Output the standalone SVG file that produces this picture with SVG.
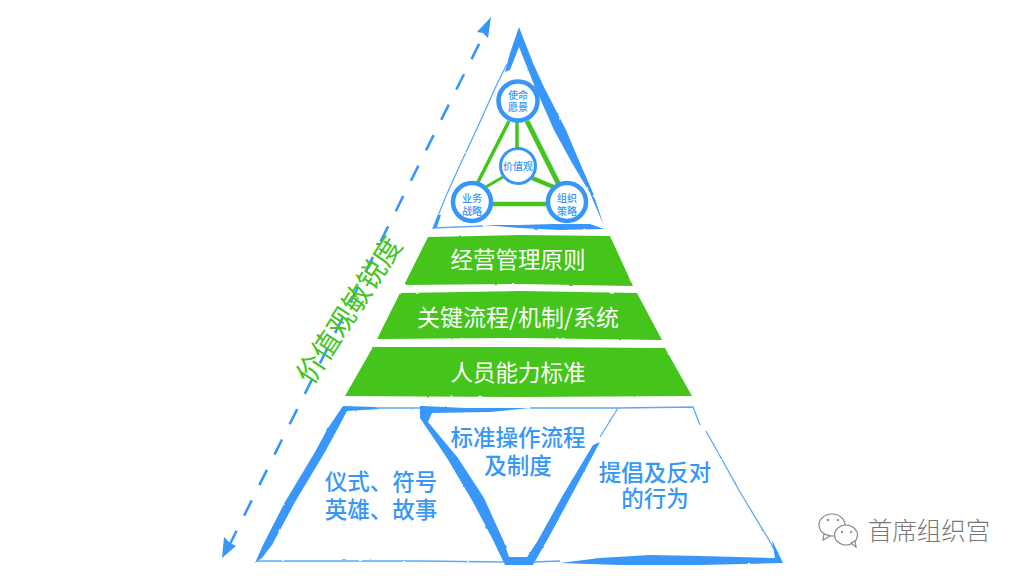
<svg xmlns="http://www.w3.org/2000/svg" width="1024" height="576" viewBox="0 0 1024 576">
<style>
text{font-family:"Noto Sans CJK SC","Liberation Sans",sans-serif;text-anchor:middle;font-weight:500}
.b{fill:#3797f8}
.g{fill:#44c51e}
.t{fill:none;stroke:#5aaafa;stroke-width:1.3}
.lw{font-size:22.5px;fill:#fff;font-weight:400}
.lb{font-size:22.5px;fill:#3797f8}
.ls{font-size:10px;fill:#3797f8}
.c{fill:#fff;stroke:#3797f8;stroke-width:4.5}
.e{stroke:#44c51e;fill:none}
.d{stroke:#3797f8;stroke-width:2.6;fill:none;stroke-dasharray:17 17}
.w{fill:#fff;stroke:#8a8a8a;stroke-width:1.2}
</style>
<defs>
<filter id="rough" x="-5%" y="-5%" width="110%" height="110%">
<feTurbulence type="fractalNoise" baseFrequency="0.12" numOctaves="2" seed="4"/>
<feDisplacementMap in="SourceGraphic" scale="1.8" xChannelSelector="R" yChannelSelector="G"/>
</filter>
</defs>
<rect width="1024" height="576" fill="#fff"/>

<g id="connectors">
<path class="d" d="M229 546L484 34"/>
<polygon class="b" points="491,17 488,38 483,33 477,32"/>
<polygon class="b" points="222,558 224,537 230,543 236,546"/>
</g>

<g id="top-triangle" filter="url(#rough)">
<polygon class="b" points="519,27 533,63 544,87 566,130 580,163 593,193 604,226 590,193 572,163 554,130 535,87 519,47 510,70 505,72 510,53"/>
<path class="t" d="M507 64L497 84L480 122L460 165L446 196L433 228L483 226"/>
<polygon class="b" points="433,229 438,215 441,215 437,227"/>
<polygon class="b" points="483,225 520,225 553,224 590,224 604,229 560,230 520,228"/>
</g>

<g id="value-links">
<path class="e" stroke-width="3.5" d="M509 121L477 184"/>
<path class="e" stroke-width="3.5" d="M517 122L517 149"/>
<path class="e" stroke-width="5" d="M527 121L559 185"/>
<path class="e" stroke-width="3" d="M484 188L503 177"/>
<path class="e" stroke-width="4.5" d="M532 178L556 188"/>
<path class="e" stroke-width="4.5" d="M490 204L548 204"/>
</g>

<g id="node-mission"><circle class="c" cx="518" cy="101" r="19.5"/><text class="ls" x="518" y="99">使命</text><text class="ls" x="518" y="111">愿景</text></g>
<g id="node-values"><circle class="c" cx="518" cy="166" r="17.5" style="stroke-width:3"/><text class="ls" x="518" y="170">价值观</text></g>
<g id="node-business"><circle class="c" cx="472" cy="202" r="19"/><text class="ls" x="472" y="202">业务</text><text class="ls" x="472" y="215">战略</text></g>
<g id="node-org"><circle class="c" cx="567" cy="202" r="19"/><text class="ls" x="567" y="202">组织</text><text class="ls" x="567" y="215">策略</text></g>

<g id="band-principles"><polygon class="g" filter="url(#rough)" points="428,237 520,235 610,236 633,286 520,284 404,285"/><text class="lw" x="518" y="268">经营管理原则</text></g>
<g id="band-process"><polygon class="g" filter="url(#rough)" points="400,293 520,291 637,293 662,340 520,338 377,339"/><text class="lw" x="518" y="326" style="font-size:23px">关键流程/机制/系统</text></g>
<g id="band-people"><polygon class="g" filter="url(#rough)" points="373,347 520,347 665,348 692,396 520,397 345,396"/><text class="lw" x="518" y="381">人员能力标准</text></g>

<g id="base-frame" filter="url(#rough)">
<polygon class="b" points="343,406 375,407 380,409 347,411 338,428 325,452 295,502 272,545 262,558 255,563 263,545 285,502 315,452 328,428"/>
<path class="t" d="M375 408L420 408M257 561L340 561L420 561L505 562"/>
<polygon class="b" points="420,406 423,406 465,408 530,408 490,412 432,413 428,422 458,458 484,498 504,542 509,557 527,557 537,542 563,495 593,445 600,442 570,498 550,535 533,565 505,565 492,538 473,502 447,458 420,418"/>
<path class="t" d="M600 437L618 408M530 408L618 408L693 407L700 425M706 431L740 492L775 550M533 562L560 561"/>
<polygon class="b" points="772,540 783,563 700,565 620,565 560,563 600,558 650,555 700,556 775,558"/>
</g>

<g id="label-symbols"><text class="lb" x="381" y="490">仪式、符号</text><text class="lb" x="381" y="518">英雄、故事</text></g>
<g id="label-standards"><text class="lb" x="518" y="446">标准操作流程</text><text class="lb" x="518" y="474">及制度</text></g>
<g id="label-advocacy"><text class="lb" x="655" y="481">提倡及反对</text><text class="lb" x="655" y="507">的行为</text></g>

<text id="axis-label" x="0" y="0" transform="translate(349,310) rotate(-57) translate(0,10)" style="font-size:28px;fill:#44c51e;font-weight:400">价值观敏锐度</text>

<g id="watermark">
<ellipse class="w" cx="832" cy="525" rx="13" ry="11"/>
<path class="w" d="M824 534l-1 6 7-4z"/>
<ellipse class="w" cx="846" cy="535" rx="11.5" ry="10"/>
<path class="w" d="M851 543l5 4-1-6z"/>
<circle cx="828" cy="520" r="1.3" fill="#999"/><circle cx="838" cy="520" r="1.3" fill="#999"/>
<circle cx="842" cy="532" r="1.2" fill="#999"/><circle cx="851" cy="532" r="1.2" fill="#999"/>
<text x="929" y="540" style="font-size:24.5px;fill:#777;font-weight:300">首席组织宫</text>
</g>
</svg>
